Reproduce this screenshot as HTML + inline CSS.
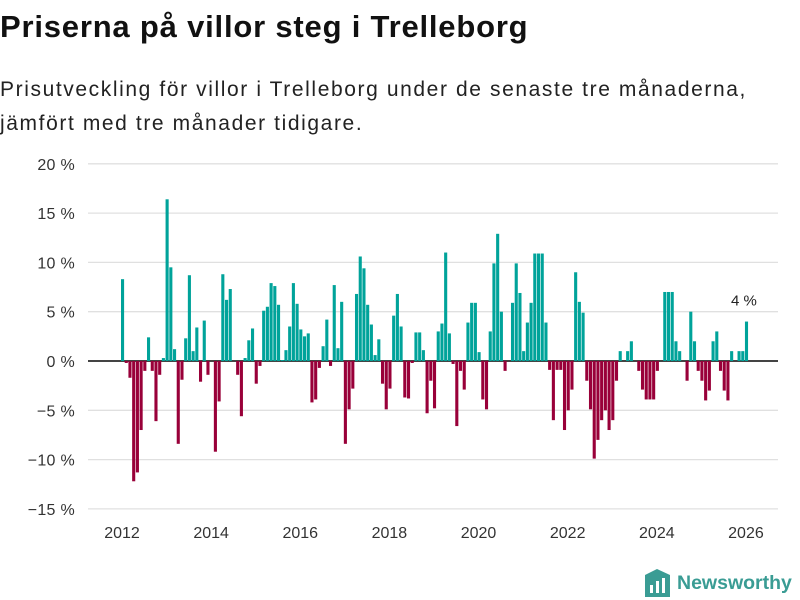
<!DOCTYPE html>
<html><head><meta charset="utf-8"><style>
body{margin:0;width:800px;height:600px;background:#fff;font-family:"Liberation Sans",sans-serif;overflow:hidden;position:relative}
h1{position:absolute;left:0;top:9px;margin:0;font-size:31px;font-weight:bold;color:#111;letter-spacing:0.8px}
.sub{position:absolute;left:0;top:73px;margin:0;font-size:21px;line-height:34px;color:#222;letter-spacing:1.6px;white-space:nowrap}
svg{position:absolute;left:0;top:0}
.logo{position:absolute;left:645px;top:569px;display:flex;align-items:center}
.logo span{color:#3a9c94;font-weight:bold;font-size:19.5px;margin-left:7px}
</style></head><body>
<h1>Priserna på villor steg i Trelleborg</h1>
<p class="sub">Prisutveckling för villor i Trelleborg under de senaste tre månaderna,<br>jämfört med tre månader tidigare.</p>
<svg id="chart" width="800" height="600"></svg>
<div class="logo">
<svg width="25" height="28" style="position:static"><path d="M0 6 L12 0 L25 6 L25 28 L0 28Z" fill="#3a9c94"/><rect x="5" y="16" width="3" height="8" fill="#fff"/><rect x="11" y="12" width="3" height="12" fill="#fff"/><rect x="17" y="9" width="3" height="15" fill="#fff"/></svg>
<span>Newsworthy</span></div>
<script>
const values=[8.3,-0.2,-1.7,-12.2,-11.3,-7.0,-1.0,2.4,-1.0,-6.1,-1.4,0.3,16.4,9.5,1.2,-8.4,-1.9,2.3,8.7,1.0,3.4,-2.1,4.1,-1.4,0,-9.2,-4.1,8.8,6.2,7.3,0,-1.4,-5.6,0.3,2.1,3.3,-2.3,-0.5,5.1,5.5,7.9,7.6,5.7,0.1,1.1,3.5,7.9,5.8,3.2,2.5,2.8,-4.2,-3.9,-0.7,1.5,4.2,-0.5,7.7,1.3,6.0,-8.4,-4.9,-2.8,6.8,10.6,9.4,5.7,3.7,0.6,2.2,-2.3,-4.9,-2.8,4.6,6.8,3.5,-3.7,-3.8,-0.2,2.9,2.9,1.1,-5.3,-2.0,-4.8,3.0,3.8,11.0,2.8,-0.3,-6.6,-1.0,-2.9,3.9,5.9,5.9,0.9,-3.9,-4.9,3.0,9.9,12.9,5.0,-1.0,0,5.9,9.9,6.9,1.0,3.9,5.9,10.9,10.9,10.9,3.9,-0.9,-6.0,-0.9,-0.9,-7.0,-5.0,-2.9,9.0,6.0,4.9,-2.0,-4.9,-9.9,-8.0,-6.0,-5.0,-7.0,-6.0,-2.0,1.0,0,1.0,2.0,0,-1.0,-2.9,-3.9,-3.9,-3.9,-1.0,0,7.0,7.0,7.0,2.0,1.0,0,-2.0,5.0,2.0,-1.0,-2.0,-4.0,-3.0,2.0,3.0,-1.0,-3.0,-4.0,1.0,0,1.0,1.0,4.0];
const startYear=2012;
const yTicks=[20,15,10,5,0,-5,-10,-15];
const xTicks=[2012,2014,2016,2018,2020,2022,2024,2026];
const lastLabel="4 %";
const NS="http://www.w3.org/2000/svg";
const svg=document.getElementById('chart');
function y(v){return 361-v*9.86;}
function x(monthIdx){return 121+monthIdx*3.714;}
function mk(t,a){const e=document.createElementNS(NS,t);for(const k in a)e.setAttribute(k,a[k]);svg.appendChild(e);return e;}
yTicks.forEach(t=>{
 const l=mk('line',{x1:88,x2:778,y1:y(t),y2:y(t),stroke:t===0?'#444':'#e0e0e0','stroke-width':t===0?2:1.3});
 
 
 const tx=mk('text',{x:75,y:y(t)+6,'text-anchor':'end','font-size':16,fill:'#333','font-family':'Liberation Sans, sans-serif','letter-spacing':0.3});
 tx.textContent=(t<0?'\u2212'+(-t):t)+' %';
 
 
});
values.forEach((v,i)=>{
 const y0=y(Math.max(v,0)),h=Math.abs(y(v)-y(0));
 const r=mk('rect',{x:x(i),y:y0,width:3.1,height:h,fill:v>=0?'#00a39a':'#990039'});
 
 
});
xTicks.forEach(yr=>{
 const tx=mk('text',{x:x((yr-startYear)*12)+1,y:538,'text-anchor':'middle','font-size':16,fill:'#333','font-family':'Liberation Sans, sans-serif'});
 tx.textContent=yr;
 
 
});
const li=values.length-1;
const lb=mk('text',{x:x(li)-1,y:y(values[li])-16,'text-anchor':'middle','font-size':15,fill:'#222','font-family':'Liberation Sans, sans-serif'});
lb.textContent=lastLabel;


</script>
</body></html>
